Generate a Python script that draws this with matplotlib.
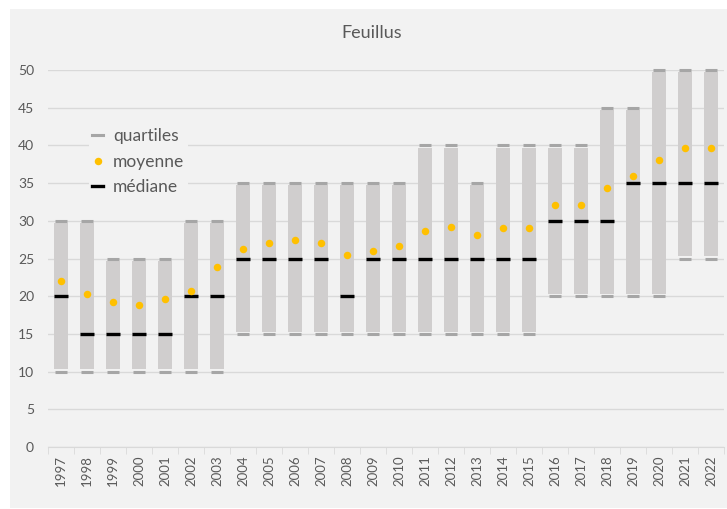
import matplotlib
matplotlib.use("Agg")
import matplotlib.pyplot as plt
import numpy as np
from matplotlib.lines import Line2D
from matplotlib.patches import Rectangle

years = [str(y) for y in range(1997, 2023)]
q1 = [10, 10, 10, 10, 10, 10, 10, 15, 15, 15, 15, 15, 15, 15, 15, 15, 15, 15, 15,
      20, 20, 20, 20, 20, 25, 25]
q3 = [30, 30, 25, 25, 25, 30, 30, 35, 35, 35, 35, 35, 35, 35, 40, 40, 35, 40, 40,
      40, 40, 45, 45, 50, 50, 50]
mediane = [20, 15, 15, 15, 15, 20, 20, 25, 25, 25, 25, 20, 25, 25, 25, 25, 25, 25, 25,
           30, 30, 30, 35, 35, 35, 35]
moyenne = [22.0, 20.3, 19.2, 18.8, 19.6, 20.7, 23.9, 26.3, 27.0, 27.5, 27.1, 25.4,
           26.0, 26.7, 28.7, 29.2, 28.1, 29.0, 29.1, 32.1, 32.1, 34.3, 35.9, 38.1,
           39.6, 39.7]
yticks = [0, 5, 10, 15, 20, 25, 30, 35, 40, 45, 50]
title = "Feuillus"
legend_labels = ["quartiles", "moyenne", "médiane"]

plt.rcParams['font.family'] = ['Lato', 'DejaVu Sans']
txt = '#595959'
W, H = 727, 509
fig = plt.figure(figsize=(W / 100, H / 100), dpi=100, facecolor='white')
bg = Rectangle((10 / W, 1 / H), 1 - 10 / W, (509 - 10) / H,
               transform=fig.transFigure, facecolor='#F2F2F2',
               edgecolor='none', zorder=-10)
fig.patches.append(bg)

ax = fig.add_axes([48 / W, (509 - 447) / H, (724 - 48) / W, (447 - 70) / H])
ax.patch.set_alpha(0)
ax.set_zorder(1)

x = np.arange(len(years))
q1a = np.array(q1, float)
q3a = np.array(q3, float)
ax.bar(x, q3a - q1a - 0.6, bottom=q1a + 0.3, width=0.52, color='#D0CECE', zorder=2)
ax.hlines(q1a, x - 0.22, x + 0.22, color='#A6A6A6', lw=2.2, zorder=3, clip_on=False)
ax.hlines(q3a, x - 0.22, x + 0.22, color='#A6A6A6', lw=2.2, zorder=3, clip_on=False)
ax.hlines(mediane, x - 0.28, x + 0.28, color='black', lw=2.4, zorder=4, clip_on=False)
ax.plot(x, moyenne, 'o', color='#FFC000', ms=5.4, mec='none', zorder=5)

ax.set_xlim(-0.5, len(years) - 0.5)
ax.set_ylim(0, 50)
ax.set_yticks(yticks)
ax.yaxis.grid(True, color='#D9D9D9', lw=1)
ax.set_axisbelow(True)
for s in ['top', 'right', 'left']:
    ax.spines[s].set_visible(False)
ax.spines['bottom'].set_color('#D9D9D9')
ax.tick_params(axis='y', length=0, labelsize=10, labelcolor=txt, pad=10)
ax.set_xticks(x)
ax.set_xticklabels(years, rotation=90)
ax.set_xticks(np.arange(-0.5, len(years), 1), minor=True)
ax.tick_params(axis='x', which='major', length=0, labelsize=9.5, labelcolor=txt, pad=6)
ax.tick_params(axis='x', which='minor', length=5, color='#D9D9D9', direction='out')

fig.text(372 / W, 1 - 33 / H, title, ha='center', va='center', fontsize=13, color=txt)

handles = [
    Line2D([], [], color='#A6A6A6', lw=2.2, marker=None),
    Line2D([], [], color='#FFC000', lw=0, marker='o', ms=5.4, mec='none'),
    Line2D([], [], color='black', lw=2.4),
]
leg = ax.legend(handles, legend_labels, loc='upper left',
                bbox_to_anchor=(80 / W, 1 - 116 / H), bbox_transform=fig.transFigure,
                frameon=True, facecolor='#F2F2F2', edgecolor='none', framealpha=1,
                fontsize=12.5, handlelength=0.65, handletextpad=0.55, labelspacing=0.55,
                borderpad=0.2)
for t in leg.get_texts():
    t.set_color(txt)

fig.savefig('out.png', dpi=100, facecolor='white')
